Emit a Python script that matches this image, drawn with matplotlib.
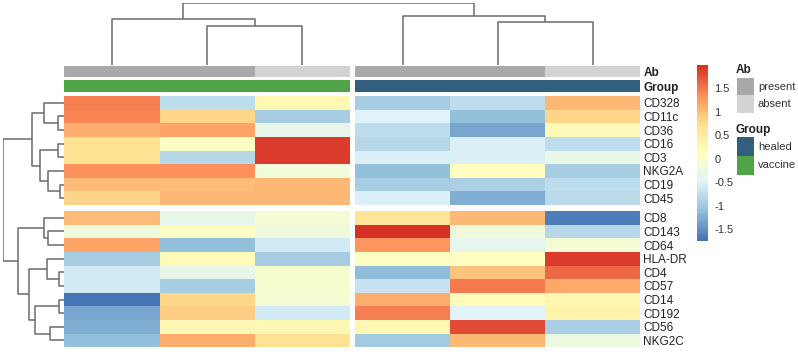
import numpy as np
import matplotlib
matplotlib.use("Agg")
import matplotlib.pyplot as plt
from matplotlib.colors import LinearSegmentedColormap, Normalize
from matplotlib.cm import ScalarMappable
from matplotlib.patches import Rectangle

plt.rcParams["font.family"] = ["Liberation Sans", "DejaVu Sans"]
plt.rcParams["axes.unicode_minus"] = False

# --- data -------------------------------------------------------------
markers_top = ["CD328", "CD11c", "CD36", "CD16", "CD3", "NKG2A", "CD19", "CD45"]
markers_bottom = ["CD8", "CD143", "CD64", "HLA-DR", "CD4", "CD57",
                  "CD14", "CD192", "CD56", "NKG2C"]

# scaled expression, 3 samples per group (same row order as markers)
vaccine_vals = [
    [1.45, -0.75, 0.30],
    [1.40, 0.80, -0.95],
    [1.10, 1.20, -0.35],
    [0.70, 0.05, 1.90],
    [0.70, -0.85, 1.90],
    [1.35, 1.35, -0.15],
    [1.00, 1.00, 1.05],
    [0.80, 1.05, 1.05],
    [1.00, -0.35, -0.10],
    [-0.20, 0.05, -0.20],
    [1.20, -1.10, -0.60],
    [-0.95, 0.20, -0.95],
    [-0.60, -0.35, -0.05],
    [-0.60, -0.95, -0.05],
    [-1.75, 0.80, -0.10],
    [-1.30, 0.90, -0.60],
    [-1.25, 0.25, 0.25],
    [-1.10, 1.10, 0.70],
]
healed_vals = [
    [-0.95, -0.75, 1.05],
    [-0.50, -1.10, 0.80],
    [-0.75, -1.30, 0.20],
    [-0.85, -0.55, -0.75],
    [-0.55, -0.55, -0.30],
    [-1.10, 0.15, -0.95],
    [-0.95, -0.90, -0.75],
    [-0.55, -1.25, -0.80],
    [0.65, 1.05, -1.65],
    [2.00, -0.20, -0.85],
    [1.30, -0.40, -0.10],
    [0.10, 0.10, 1.90],
    [-1.15, 0.95, 1.60],
    [-0.70, 1.50, 1.15],
    [1.10, 0.20, 0.30],
    [1.45, -0.50, 0.35],
    [0.30, 1.80, -0.90],
    [-1.00, 1.05, -0.25],
]

ab_status = ["present", "present", "absent"]   # per sample, both groups
groups = ["vaccine", "healed"]
ab_colors = {"present": "#a9a9a9", "absent": "#d3d3d3"}
group_colors = {"healed": "#335f7e", "vaccine": "#4ea447"}

# dendrograms: (height, left, right), leaves are row / column indices
row_tree = (61,
            (32, (20, 0, (6, 1, 2)),
                 (24.3, (6, 3, 4), (16, 5, (4.3, 6, 7)))),
            (46, (20, 8, (16, 9, 10)),
                 (35, (17.6, 11, (5, 12, 13)),
                      (29.3, (5, 14, 15), (14.3, 16, 17)))))
col_tree = (62, (45.7, 0, (39.3, 1, 2)), (49, 3, (43.3, 4, 5)))

vmin, vmax = -1.75, 2.0
palette = ["#4575b4", "#91bfdb", "#e0f3f8", "#ffffbf", "#fee090", "#fc8d59", "#d73027"]
cmap = LinearSegmentedColormap.from_list("rdylbu", palette, N=100)
norm = Normalize(vmin=vmin, vmax=vmax)

# --- layout (pixels) ---------------------------------------------------
W, H = 798, 354
fig = plt.figure(figsize=(W / 100, H / 100), dpi=100)


def add_px(x0, y0, x1, y1):
    ax = fig.add_axes([x0 / W, 1 - y1 / H, (x1 - x0) / W, (y1 - y0) / H])
    for s in ax.spines.values():
        s.set_visible(False)
    ax.set_xticks([])
    ax.set_yticks([])
    return ax


col_blocks = [(64.3, 350), (355, 640)]
row_blocks = [(96, 205), (211, 347.3)]
ab_band = (66, 77.3)
grp_band = (80.3, 91.7)
text_col = "#222222"

vals = [np.array(vaccine_vals), np.array(healed_vals)]
row_names = [markers_top, markers_bottom]
n_top = len(markers_top)

for ci, (x0, x1) in enumerate(col_blocks):
    for ri, (y0, y1) in enumerate(row_blocks):
        ax = add_px(x0, y0, x1, y1)
        block = vals[ci][:n_top] if ri == 0 else vals[ci][n_top:]
        ax.pcolormesh(block, cmap=cmap, norm=norm)
        ax.set_xlim(0, block.shape[1])
        ax.set_ylim(block.shape[0], 0)
        if ci == 1:
            ax.yaxis.tick_right()
            ax.set_yticks(np.arange(block.shape[0]) + 0.5)
            ax.set_yticklabels(row_names[ri], fontsize=8.5, color=text_col)
            ax.tick_params(axis="y", length=0, pad=2.5)

    # annotation bars
    for (b0, b1), label, cols in [
        (ab_band, "Ab", [ab_colors[a] for a in ab_status]),
        (grp_band, "Group", [group_colors[groups[ci]]] * 3),
    ]:
        ax = add_px(x0, b0, x1, b1)
        for k, c in enumerate(cols):
            ax.bar(k, 1, width=1, align="edge", color=c)
        ax.set_xlim(0, len(cols))
        ax.set_ylim(0, 1)
        if ci == 1:
            ax.yaxis.tick_right()
            ax.set_yticks([0.5])
            ax.set_yticklabels([label], fontsize=8.5, fontweight="bold", color=text_col)
            ax.tick_params(axis="y", length=0, pad=2.5)

# leaf centres in pixel coordinates
col_pos = []
for x0, x1 in col_blocks:
    step = (x1 - x0) / 3
    col_pos += [x0 + (k + 0.5) * step for k in range(3)]
row_pos = []
for (y0, y1), names in zip(row_blocks, row_names):
    step = (y1 - y0) / len(names)
    row_pos += [y0 + (k + 0.5) * step for k in range(len(names))]

dcol = "#6b6b6b"


def draw_tree(ax, node, pos, horizontal):
    if isinstance(node, int):
        return pos[node], 0.0
    h, left, right = node
    p1, h1 = draw_tree(ax, left, pos, horizontal)
    p2, h2 = draw_tree(ax, right, pos, horizontal)
    ps, hs = [p1, p1, p2, p2], [h1, h, h, h2]
    if horizontal:
        ax.plot(ps, hs, color=dcol, lw=1.1, solid_capstyle="butt")
    else:
        ax.plot(hs, ps, color=dcol, lw=1.1, solid_capstyle="butt")
    return (p1 + p2) / 2, h


# column dendrogram
ax = add_px(col_blocks[0][0], 3, col_blocks[1][1], 65)
draw_tree(ax, col_tree, col_pos, True)
ax.set_xlim(col_blocks[0][0], col_blocks[1][1])
ax.set_ylim(0, col_tree[0])
ax.patch.set_alpha(0)

# row dendrogram
ax = add_px(2.5, row_blocks[0][0], col_blocks[0][0], row_blocks[1][1])
draw_tree(ax, row_tree, row_pos, False)
ax.set_xlim(row_tree[0] + 0.8, 0)
ax.set_ylim(row_blocks[1][1], row_blocks[0][0])
ax.patch.set_alpha(0)

# colour bar
cax = add_px(696.7, 65, 708.3, 240.7)
cb = fig.colorbar(ScalarMappable(norm=norm, cmap=cmap), cax=cax)
ticks = [-1.5, -1, -0.5, 0, 0.5, 1, 1.5]
cb.set_ticks(ticks)
cb.set_ticklabels(["-1.5", "-1", "-0.5", "0", "0.5", "1", "1.5"])
cb.outline.set_visible(False)
cax.tick_params(length=0, pad=4.5, labelsize=8, labelcolor="#333333")

# annotation legend
lax = add_px(730, 55, 798, 185)
lax.set_xlim(730, 798)
lax.set_ylim(185, 55)
lax.patch.set_alpha(0)
legend_items = [
    ("Ab", 70, [("present", ab_colors["present"], 78.3),
                ("absent", ab_colors["absent"], 95.3)]),
    ("Group", 130.5, [("healed", group_colors["healed"], 137),
                      ("vaccine", group_colors["vaccine"], 156)]),
]
for title, ty, entries in legend_items:
    lax.text(735.5, ty, title, fontsize=8.5, fontweight="bold", color=text_col,
             va="center", ha="left")
    for name, c, sy in entries:
        hgt = 17.5 if title == "Ab" else 19
        lax.add_patch(Rectangle((737, sy), 16.5, hgt, color=c, lw=0))
        lax.text(758, sy + hgt / 2, name, fontsize=8, color="#333333",
                 va="center", ha="left")

fig.savefig("out.png", dpi=100, facecolor="white")
